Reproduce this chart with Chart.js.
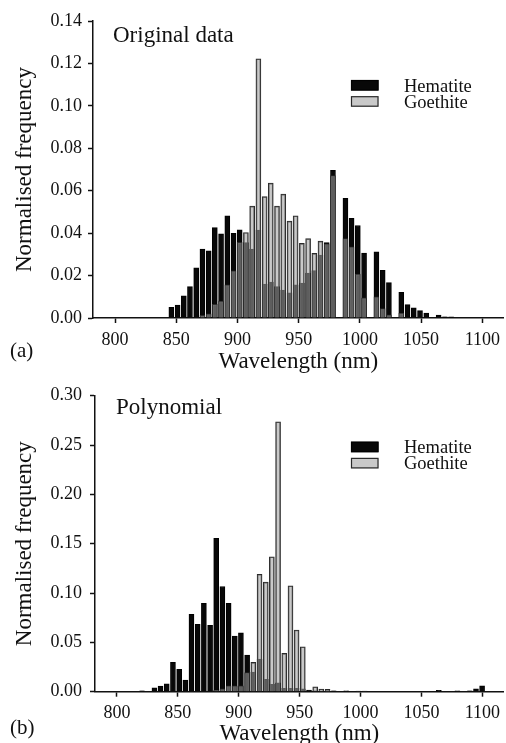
<!DOCTYPE html>
<html>
<head>
<meta charset="utf-8">
<script src="https://cdn.jsdelivr.net/npm/chart.js@4.4.1/dist/chart.umd.min.js"></script>
<style>
  html, body { margin: 0; padding: 0; background: #fff; overflow: hidden; }
  body { width: 506px; height: 743px; position: relative; }
  canvas { position: absolute; left: 0; }
  #chart-a { top: 0; }
  #chart-b { top: 372px; }
</style>
</head>
<body>
<canvas id="chart-a" width="506" height="380"></canvas>
<canvas id="chart-b" width="506" height="380"></canvas>
<script>
// bin centres (nm)
const wavelengths = [
  820.6, 825.7, 830.8, 835.8, 840.9, 846.0, 851.1, 856.2, 861.2, 866.3,
  871.4, 876.5, 881.5, 886.6, 891.7, 896.8, 901.8, 906.9, 912.0, 917.1,
  922.2, 927.2, 932.3, 937.4, 942.5, 947.5, 952.6, 957.7, 962.8, 967.8,
  972.9, 978.0, 983.1, 988.2, 993.2, 998.3, 1003.4, 1008.5, 1013.5, 1018.6,
  1023.7, 1028.8, 1033.8, 1038.9, 1044.0, 1049.1, 1054.2, 1059.2, 1064.3, 1069.4,
  1074.5, 1079.5, 1084.6, 1089.7, 1094.8, 1099.8,
];

// (a) Original data
const hematiteA = [
  null, null, null, null, null, 0.0050, 0.0061, 0.0105, 0.0148, 0.0237,
  0.0325, 0.0317, 0.0426, 0.0397, 0.0482, 0.0399, 0.0416, 0.0355, 0.0325, 0.0415,
  0.0160, 0.0169, 0.0148, 0.0132, 0.0119, 0.0156, 0.0165, 0.0212, 0.0223, 0.0297,
  0.0355, 0.0696, null, 0.0564, 0.0470, 0.0436, 0.0306, null, 0.0312, 0.0225,
  0.0167, null, 0.0121, 0.0063, 0.0048, 0.0035, 0.0023, null, 0.0014, 0.0006,
  0.0005, null, null, null, null, null,
];
const goethiteA = [
  null, null, null, null, null, null, null, null, null, null,
  0.0013, 0.0020, 0.0065, 0.0080, 0.0156, 0.0222, 0.0357, 0.0403, 0.0527, 0.1222,
  0.0572, 0.0636, 0.0527, 0.0584, 0.0457, 0.0482, 0.0352, 0.0374, 0.0305, 0.0362,
  0.0350, 0.0671, null, 0.0374, 0.0336, 0.0207, 0.0095, null, 0.0100, 0.0044,
  0.0015, null, 0.0023, null, null, null, null, null, null, null,
  null, null, null, null, null, null,
];

// (b) Polynomial
const hematiteB = [
  0.0010, null, 0.0040, 0.0058, 0.0081, 0.0298, 0.0227, 0.0118, 0.0784, 0.0683,
  0.0896, 0.0672, 0.1555, 0.1066, 0.0896, 0.0563, 0.0597, 0.0370, 0.0200, 0.0331,
  0.0125, 0.0075, 0.0091, 0.0034, 0.0034, 0.0034, 0.0030, 0.0017, 0.0010, null,
  null, 0.0010, null, 0.0008, null, null, null, null, null, null,
  null, null, null, null, null, null, null, null, 0.0013, null,
  null, 0.0008, null, 0.0010, 0.0030, 0.0060,
];
const goethiteB = [
  null, null, null, null, null, null, null, null, null, null,
  null, null, 0.0015, 0.0030, 0.0060, 0.0060, 0.0060, 0.0193, 0.0298, 0.1190,
  0.1110, 0.1368, 0.2736, 0.0389, 0.1074, 0.0625, 0.0456, null, 0.0050, 0.0027,
  0.0025, null, null, null, null, 0.0007, 0.0007, null, null, null,
  null, null, null, null, null, null, null, null, null, null,
  null, null, null, null, null, null,
];

const seriesNames = ["Hematite", "Goethite"];
const xTicks = [800, 850, 900, 950, 1000, 1050, 1100];
const yTicksA = [0, 0.02, 0.04, 0.06, 0.08, 0.1, 0.12, 0.14];
const yTicksB = [0, 0.05, 0.1, 0.15, 0.2, 0.25, 0.3];

const FONT = "Liberation Serif";
const INK = "#111";

// 패널 제목, (a)/(b), 범례를 그리는 플러그인
const panelText = {
  id: "panelText",
  afterDraw(chart, args, opts) {
    const ctx = chart.ctx;
    ctx.save();
    ctx.fillStyle = INK;
    ctx.textBaseline = "alphabetic";
    ctx.textAlign = "left";
    ctx.font = `23px '${FONT}'`;
    ctx.fillText(opts.title, opts.titleX, 42);
    ctx.font = `21px '${FONT}'`;
    ctx.fillText(opts.tag, 10, opts.tagY);

    // 범례 (Hematite 위, Goethite 아래)
    ctx.font = `18.5px '${FONT}'`;
    seriesNames.forEach((name, i) => {
      const ds = chart.data.datasets.find((d) => d.label === name);
      const y = opts.legendY + i * 16.2;
      ctx.fillStyle = "#fff";
      ctx.fillRect(351, y, 27.5, 10.5);
      ctx.fillStyle = ds.backgroundColor;
      ctx.fillRect(351, y, 27.5, 10.5);
      ctx.strokeStyle = ds.borderColor;
      ctx.lineWidth = 1.2;
      ctx.strokeRect(351.5, y + 0.5, 26.5, 9.5);
      ctx.fillStyle = INK;
      ctx.fillText(name, 404, y + 11.5);
    });
    ctx.restore();
  },
};

function makePanel(id, hem, goe, yTicks, cfg) {
  const toPoints = (vals) => wavelengths.map((w, i) => ({ x: w, y: vals[i] })).filter((p) => p.y !== null);

  const data = {
    datasets: [
      {
        label: seriesNames[1],
        data: toPoints(goe),
        backgroundColor: "rgba(160,160,160,0.57)", // 겹치는 부분은 진회색
        borderColor: "#2a2a2a",
        borderWidth: 1,
        barThickness: 5,
        grouped: false,
        order: 0,
      },
      {
        label: seriesNames[0],
        data: toPoints(hem),
        backgroundColor: "#080808",
        borderColor: "#000",
        borderWidth: 1,
        barThickness: 5,
        grouped: false,
        order: 1,
      },
    ],
  };

  const options = {
    responsive: false,
    animation: false,
    devicePixelRatio: 1,
    layout: { padding: { top: cfg.top, right: 0, bottom: 0, left: 0 } },
    plugins: {
      legend: { display: false },
      tooltip: { enabled: false },
      panelText: cfg.text,
    },
    scales: {
      x: {
        type: "linear",
        min: 782,
        max: 1117.5,
        offset: false,
        afterBuildTicks(scale) {
          scale.ticks = xTicks.map((v) => ({ value: v }));
        },
        afterFit(scale) {
          scale.height = cfg.xHeight;
        },
        grid: { drawOnChartArea: false, drawTicks: true, tickLength: 5, tickColor: INK, tickWidth: 1.5, offset: false },
        border: { display: true, color: INK, width: 1.5 },
        ticks: {
          color: INK,
          font: { family: FONT, size: 18 },
          padding: 6,
          maxRotation: 0,
          autoSkip: false,
          callback: (v) => String(v), // 천 단위 쉼표 없이
        },
        title: {
          display: true,
          text: "Wavelength (nm)",
          color: INK,
          font: { family: FONT, size: 23 },
          padding: { top: 0, bottom: cfg.xTitlePad },
        },
      },
      y: {
        min: 0,
        max: yTicks[yTicks.length - 1],
        afterBuildTicks(scale) {
          scale.ticks = yTicks.map((v) => ({ value: v }));
        },
        afterFit(scale) {
          scale.width = cfg.yWidth;
        },
        grid: { drawOnChartArea: false, drawTicks: true, tickLength: 5, tickColor: INK, tickWidth: 1.5 },
        border: { display: true, color: INK, width: 1.5 },
        ticks: {
          color: INK,
          font: { family: FONT, size: 18 },
          padding: cfg.yTickPad,
          callback: (v) => Number(v).toFixed(2),
        },
        title: {
          display: true,
          text: "Normalised frequency",
          color: INK,
          font: { family: FONT, size: 23 },
          padding: { top: 11.6, bottom: 0 },
        },
      },
    },
  };

  new Chart(document.getElementById(id), {
    type: "bar",
    data: data,
    options: options,
    plugins: [panelText],
  });
}

makePanel("chart-a", hematiteA, goethiteA, yTicksA, {
  top: 21,
  xHeight: 62,
  yWidth: 93,
  yTickPad: 6,
  xTitlePad: 4.7,
  text: { title: "Original data", titleX: 113, tag: "(a)", tagY: 357, legendY: 80 },
});

makePanel("chart-b", hematiteB, goethiteB, yTicksB, {
  top: 23.7,
  xHeight: 60.3,
  yWidth: 95,
  yTickPad: 8,
  xTitlePad: 3.8,
  text: { title: "Polynomial", titleX: 116, tag: "(b)", tagY: 362, legendY: 69.7 },
});
</script>
</body>
</html>
